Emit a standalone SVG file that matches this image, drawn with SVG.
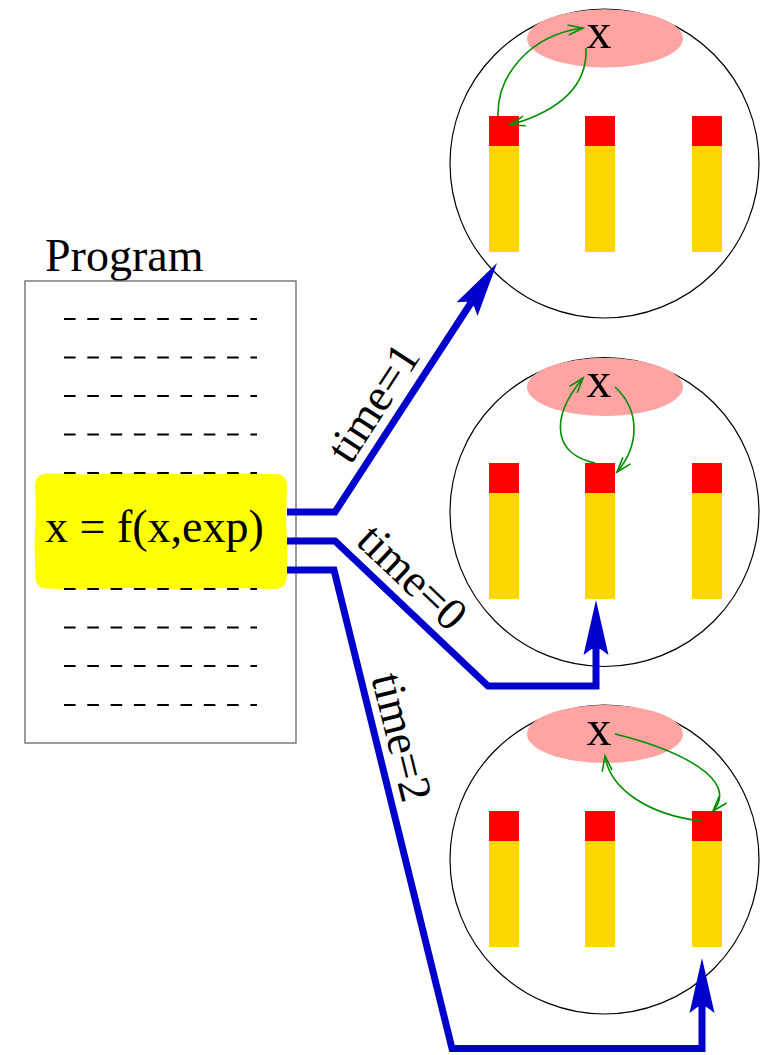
<svg xmlns="http://www.w3.org/2000/svg" xmlns:xlink="http://www.w3.org/1999/xlink" width="760" height="1055" viewBox="0 0 760 1055">
<style>
.txt{font-family:"Liberation Serif","Times New Roman",serif;font-size:46px;fill:#000}
.mem{fill:none;stroke:#000;stroke-width:1.2}
.ell{fill:#ffa3a3}
.red{fill:#ff0000}
.gold{fill:#ffd700}
.dash{stroke:#000;stroke-width:2;stroke-dasharray:11.6 11.7}
.blue{fill:none;stroke:#0000cd;stroke-width:7;stroke-linejoin:miter}
.bh{fill:#0000cd}
.grn{fill:none;stroke:#008f00;stroke-width:1.6;marker-end:url(#ga)}
.xl{font-family:"Liberation Serif","Times New Roman",serif;font-size:50px;fill:#000}
</style>
<defs>
<marker id="ga" markerUnits="userSpaceOnUse" markerWidth="30" markerHeight="30" refX="0" refY="0" viewBox="-20 -10 30 20" orient="auto" overflow="visible">
<path d="M-15,-5 L0,0 L-15,5" fill="none" stroke="#008f00" stroke-width="1.6"/>
</marker>
<path id="bh" d="M0,0 L-12.5,55 L-4.5,49 L4.5,49 L12.5,55 Z"/>
<g id="bars">
<rect class="red" x="-116" y="0" width="30" height="30"/>
<rect class="gold" x="-116" y="30" width="30" height="106"/>
<rect class="red" x="-20" y="0" width="30" height="30"/>
<rect class="gold" x="-20" y="30" width="30" height="106"/>
<rect class="red" x="87" y="0" width="30" height="30"/>
<rect class="gold" x="87" y="30" width="30" height="106"/>
</g>
</defs>
<rect width="760" height="1055" fill="#fff"/>

<g id="program">
<text class="txt" x="45" y="271">Program</text>
<rect x="25" y="281" width="271" height="462" fill="none" stroke="#666" stroke-width="1.3"/>
</g>
<g id="statement">
<path fill="#ffff00" d="M48,473.5 L90,474.5 L140,473 L190,474.5 L240,473.5 L275,474 Q287,474 287,486 L286,520 L287.5,555 L286.5,577 Q286.5,589 274,589 L230,588 L180,589.5 L130,588 L80,589.5 L48,588.5 Q35,588.5 35.5,576 L34.5,545 L36,510 L35,486 Q35,473.5 48,473.5 Z"/>
<text class="txt" x="45" y="542">x = f(x,exp)</text>
</g>
<g id="code-lines">
<line class="dash" x1="64" y1="319" x2="257" y2="319"/>
<line class="dash" x1="64" y1="357.5" x2="257" y2="357.5"/>
<line class="dash" x1="64" y1="396" x2="257" y2="396"/>
<line class="dash" x1="64" y1="434.5" x2="257" y2="434.5"/>
<line class="dash" x1="64" y1="473" x2="257" y2="473"/>
<line class="dash" x1="64" y1="589" x2="257" y2="589"/>
<line class="dash" x1="64" y1="627.5" x2="257" y2="627.5"/>
<line class="dash" x1="64" y1="666" x2="257" y2="666"/>
<line class="dash" x1="64" y1="705" x2="257" y2="705"/>
</g>

<g id="memory1">
<circle class="mem" cx="604.5" cy="163.5" r="154.5"/>
<ellipse class="ell" cx="605" cy="38.5" rx="78" ry="29"/>
<text class="xl" x="599" y="48" text-anchor="middle">x</text>
<use xlink:href="#bars" href="#bars" transform="translate(605,116)"/>
<path class="grn" d="M498,116 C497,75 530,35 583,28"/>
<path class="grn" d="M586,48 C588,95 545,115 510,125"/>
</g>
<g id="memory2">
<circle class="mem" cx="604.5" cy="512" r="154.5"/>
<ellipse class="ell" cx="605" cy="387" rx="78" ry="29"/>
<text class="xl" x="599" y="397" text-anchor="middle">x</text>
<use xlink:href="#bars" href="#bars" transform="translate(605,463)"/>
<path class="grn" d="M595,463 C555,455 548,420 583,378"/>
<path class="grn" d="M615,387 C640,410 640,445 617,472"/>
</g>
<g id="memory3">
<circle class="mem" cx="604.5" cy="859.5" r="154.5"/>
<ellipse class="ell" cx="605" cy="734" rx="78" ry="29"/>
<text class="xl" x="599" y="745" text-anchor="middle">x</text>
<use xlink:href="#bars" href="#bars" transform="translate(605,811)"/>
<path class="grn" d="M615,734 C680,750 740,780 713,811"/>
<path class="grn" d="M701,821 C650,815 610,790 605,756"/>
</g>

<g id="connectors">
<path class="blue" d="M287,512 H335 L478,292"/>
<use class="bh" xlink:href="#bh" href="#bh" transform="translate(497,263) rotate(33)"/>
<path class="blue" d="M287,541 H335 L488,686 H596 V645"/>
<use class="bh" xlink:href="#bh" href="#bh" transform="translate(596,600)"/>
<path class="blue" d="M287,570 H334 L452,1048.5 H702 V1003"/>
<use class="bh" xlink:href="#bh" href="#bh" transform="translate(702,958)"/>
</g>
<g id="labels">
<text class="txt" text-anchor="middle" transform="translate(386,411) rotate(-57)">time=1</text>
<text class="txt" text-anchor="middle" transform="translate(402,588) rotate(43.5)">time=0</text>
<text class="txt" text-anchor="middle" transform="translate(387,741) rotate(76.1)">time=2</text>
</g>
</svg>
